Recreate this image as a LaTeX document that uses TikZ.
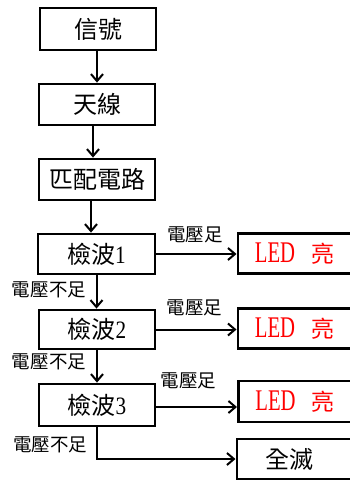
\documentclass[tikz,border=0pt]{standalone}
\usepackage{fontspec}
\setmainfont{Liberation Serif}
\newfontfamily\cjk{Noto Sans CJK TC}
\usetikzlibrary{arrows.meta,calc}
\newcommand{\dig}[1]{{\rmfamily\fontsize{25}{25}\selectfont\scalebox{0.85}[1]{#1}}}
\newcommand{\ledtxt}{\textcolor{red}{\rmfamily\scalebox{0.69}[1]{\fontsize{30}{30}\selectfont LED}\hspace{16pt}{\cjk\fontsize{23}{23}\selectfont 亮}}}
\begin{document}
\begin{tikzpicture}[x=1pt,y=-1pt,
  box/.style={draw,line width=2.8pt,minimum width=116pt,inner sep=0pt,font=\cjk\fontsize{24}{24}\selectfont},
  rbox/.style={draw,line width=2.8pt,anchor=west,text width=100pt,inner xsep=17pt,inner ysep=0pt,align=left,font=\cjk\fontsize{24}{24}\selectfont},
  arr/.style={line width=2pt,-{Straight Barb[length=7pt,width=12pt]}},
  lab/.style={font=\cjk\fontsize{18.5}{18.5}\selectfont,inner sep=0pt}]
\useasboundingbox (0,0) rectangle (350,481);
\fill[white] (0,0) rectangle (350,481);
\clip (0,0) rectangle (350,481);
% left column
\node[box,minimum height=42pt] (b1) at (98,29) {信號};
\node[box,minimum height=41pt] (b2) at (97,104.5) {天線};
\node[box,minimum height=41pt] (b3) at (97,179.5) {匹配電路};
\node[box,minimum height=40pt,minimum width=117pt] (b4) at (96.5,254) {檢波\dig{1}};
\node[box,minimum height=39pt] (b5) at (97,329.5) {檢波\dig{2}};
\node[box,minimum height=42pt] (b6) at (97,405) {檢波\dig{3}};
% right column
\node[rbox,minimum height=40pt] (l1) at (236.5,253.5) {\ledtxt};
\node[rbox,minimum height=40.5pt] (l2) at (236.5,328.5) {\ledtxt};
\node[rbox,minimum height=41pt] (l3) at (237,401.5) {\ledtxt};
\node[rbox,minimum height=40pt,inner xsep=29pt,text width=76pt] (e) at (235.5,459) {全滅};
% vertical arrows
\draw[arr] ([xshift=-1pt]b1.south) -- ([xshift=-1pt]b1.south |- b2.north);
\draw[arr] ([xshift=-4pt]b2.south) -- ([xshift=-4pt]b2.south |- b3.north);
\draw[arr] ([xshift=-6pt]b3.south) -- ([xshift=-6pt]b3.south |- b4.north);
\draw[arr] (b4.south) -- (b4.south |- b5.north);
\draw[arr] (b5.south) -- (b5.south |- b6.north);
\draw[arr] (b6.south) |- (e.west);
% horizontal arrows
\draw[arr] (b4.east) -- (b4.east -| l1.west);
\draw[arr] (b5.east) -- (b5.east -| l2.west);
\draw[arr] ([yshift=-2pt]b6.east) -- ([yshift=-2pt]b6.east -| l3.west);
% labels
\node[lab] (s1) at (195,234.5) {電壓足};
\node[lab] (s2) at (194.5,307.5) {電壓足};
\node[lab] (s3) at (188.5,381) {電壓足};
\node[lab] (n1) at (49,290) {電壓不足};
\node[lab] (n2) at (49,362) {電壓不足};
\node[lab] (n3) at (50,444.5) {電壓不足};
\end{tikzpicture}
\end{document}
